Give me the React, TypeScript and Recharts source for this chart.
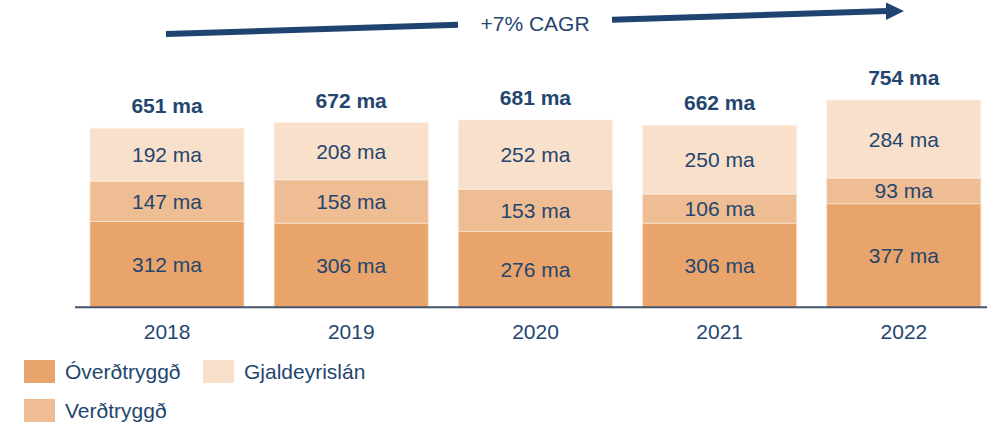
import React from 'react';
import { BarChart, Bar, XAxis, YAxis, LabelList, Customized } from 'recharts';

const years = ['2018', '2019', '2020', '2021', '2022'];
const overdtryggd = [312, 306, 276, 306, 377];
const verdtryggd = [147, 158, 153, 106, 93];
const gjaldeyrislan = [192, 208, 252, 250, 284];
const totals = [651, 672, 681, 662, 754];

const seriesNames = ['Óverðtryggð', 'Verðtryggð', 'Gjaldeyrislán'];
const seriesColors = ['#E8A46A', '#EFBD93', '#F9E0CB'];
const cagrLabel = '+7% CAGR';

const TEXT = '#24466E';
const NAVY = '#1F4470';
const FONT = '"Liberation Sans", Arial, sans-serif';

const data = years.map((y, i) => ({
  year: y,
  a: overdtryggd[i],
  b: verdtryggd[i],
  c: gjaldeyrislan[i],
  total: totals[i],
}));

const fmt = (v: any) => `${v} ma`;

const CagrArrow = () => (
  <g>
    <line x1={166} y1={34} x2={458} y2={24.7} stroke={NAVY} strokeWidth={6} />
    <line x1={612} y1={19.8} x2={888} y2={11} stroke={NAVY} strokeWidth={6} />
    <polygon points="886,2.5 904,11 886,20" fill={NAVY} />
    <text x={535} y={31} textAnchor="middle" fontSize={21} fill={TEXT} fontFamily={FONT}>
      {cagrLabel}
    </text>
  </g>
);

export default function App() {
  return (
    <div
      style={{
        position: 'absolute',
        left: 0,
        top: 0,
        width: 987,
        height: 422,
        overflow: 'hidden',
        background: '#fff',
        fontFamily: FONT,
      }}
    >
      <BarChart
        width={1002}
        height={422}
        data={data}
        margin={{ top: 87.4, right: 6, left: 75, bottom: 84.7 }}
        style={{ fontFamily: FONT }}
      >
        <XAxis
          dataKey="year"
          axisLine={{ stroke: '#44546A', strokeWidth: 2 }}
          tickLine={false}
          tickMargin={11}
          height={30}
          tick={{ fontSize: 21, fill: TEXT, fontFamily: FONT }}
          interval={0}
        />
        <YAxis hide domain={[0, 800]} />
        <Bar dataKey="a" stackId="s" fill={seriesColors[0]} barSize={154} stroke="#F6D9BF" strokeWidth={0.8} isAnimationActive={false}>
          <LabelList dataKey="a" position="center" formatter={fmt} fontSize={21} fill={TEXT} fontFamily={FONT} />
        </Bar>
        <Bar dataKey="b" stackId="s" fill={seriesColors[1]} barSize={154} stroke="#F8E2CF" strokeWidth={0.8} isAnimationActive={false}>
          <LabelList dataKey="b" position="center" formatter={fmt} fontSize={21} fill={TEXT} fontFamily={FONT} />
        </Bar>
        <Bar dataKey="c" stackId="s" fill={seriesColors[2]} barSize={154} stroke="#FCEEE2" strokeWidth={0.8} isAnimationActive={false}>
          <LabelList dataKey="c" position="center" formatter={fmt} fontSize={21} fill={TEXT} fontFamily={FONT} />
          <LabelList dataKey="total" position="top" offset={15} formatter={fmt} fontSize={21} fontWeight="bold" fill={TEXT} fontFamily={FONT} />
        </Bar>
        <Customized component={CagrArrow} />
      </BarChart>
      {[
        { i: 0, x: 24, y: 360 },
        { i: 2, x: 203, y: 360 },
        { i: 1, x: 24, y: 399 },
      ].map(({ i, x, y }) => (
        <div key={i} style={{ position: 'absolute', left: x, top: y, height: 23, display: 'flex', alignItems: 'center' }}>
          <div style={{ width: 31, height: 23, background: seriesColors[i] }} />
          <span style={{ marginLeft: 10, fontSize: 21, color: TEXT, lineHeight: '23px', whiteSpace: 'nowrap' }}>
            {seriesNames[i]}
          </span>
        </div>
      ))}
    </div>
  );
}
